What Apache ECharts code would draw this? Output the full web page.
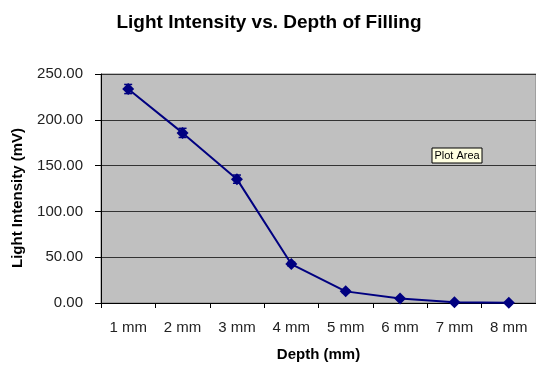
<!DOCTYPE html>
<html>
<head>
<meta charset="utf-8">
<script src="https://cdn.jsdelivr.net/npm/echarts@6/dist/echarts.min.js"></script>
<style>
  html, body { margin: 0; padding: 0; background: #ffffff; }
  #chart { width: 536px; height: 367px; }
</style>
</head>
<body>
<div id="chart"></div>
<script>
const titleText = 'Light Intensity vs. Depth of Filling';
const xAxisName = 'Depth (mm)';
const yAxisName = 'Light Intensity (mV)';
const categories = ['1 mm', '2 mm', '3 mm', '4 mm', '5 mm', '6 mm', '7 mm', '8 mm'];
const intensity = [233.6, 185.7, 135.2, 42.5, 12.7, 5.0, 0.8, 0.2];
const errors = [5.0, 5.0, 4.5, 2.0, 1.5, 1.0, 0.5, 0.3];
const yMin = 0, yMax = 250, yStep = 50;

const FONT = '"Liberation Sans", Arial, sans-serif';
const NAVY = '#000080';

const errData = categories.map((c, i) => [i, intensity[i] - errors[i], intensity[i] + errors[i]]);

const chart = echarts.init(document.getElementById('chart'), null, { renderer: 'canvas' });
chart.setOption({
  animation: false,
  backgroundColor: '#ffffff',
  title: {
    text: titleText,
    left: 264,
    textAlign: 'center',
    top: 8,
    textStyle: { fontFamily: FONT, fontSize: 19, fontWeight: 'bold', color: '#000000' }
  },
  grid: {
    left: 101, top: 74, width: 440, height: 229,
    show: true, backgroundColor: '#c0c0c0', borderColor: '#808080', borderWidth: 1
  },
  xAxis: {
    type: 'category',
    data: categories,
    boundaryGap: true,
    name: xAxisName,
    nameLocation: 'middle',
    nameGap: 44,
    nameTextStyle: { fontFamily: FONT, fontSize: 15, fontWeight: 'bold', color: '#000000' },
    axisLine: { lineStyle: { color: '#000000', width: 1 } },
    axisTick: { show: true, length: 5, alignWithLabel: false, lineStyle: { color: '#000000' } },
    axisLabel: { fontFamily: FONT, fontSize: 15, color: '#222222', margin: 17 },
    splitLine: { show: false }
  },
  yAxis: {
    type: 'value',
    min: yMin, max: yMax, interval: yStep,
    axisLine: { show: true, lineStyle: { color: '#000000', width: 1 } },
    axisTick: { show: true, length: 6, lineStyle: { color: '#000000' } },
    axisLabel: {
      fontFamily: FONT, fontSize: 15, color: '#222222', margin: 18,
      formatter: v => v.toFixed(2)
    },
    splitLine: { show: true, lineStyle: { color: '#333333', width: 1 } }
  },
  graphic: [
    {
      type: 'text',
      x: 18, y: 198,
      rotation: Math.PI / 2,
      style: {
        text: yAxisName,
        font: 'bold 15px ' + FONT,
        fill: '#000000',
        align: 'center',
        verticalAlign: 'middle'
      }
    },
    {
      type: 'group',
      x: 432, y: 148,
      children: [
        { type: 'rect', shape: { x: 0, y: 0, width: 50, height: 15 },
          style: { fill: '#ffffe1', stroke: '#000000', lineWidth: 1 } },
        { type: 'text', x: 25, y: 8,
          style: { text: 'Plot Area', font: '11px ' + FONT, fill: '#000000',
                   align: 'center', verticalAlign: 'middle' } }
      ]
    }
  ],
  series: [
    {
      type: 'line',
      data: intensity,
      symbol: 'diamond',
      symbolSize: 12,
      lineStyle: { color: NAVY, width: 2 },
      itemStyle: { color: NAVY },
      z: 3
    },
    {
      type: 'custom',
      data: errData,
      z: 4,
      renderItem: function (params, api) {
        const x = api.value(0);
        const lo = api.coord([x, api.value(1)]);
        const hi = api.coord([x, api.value(2)]);
        const cap = 4;
        const style = { stroke: NAVY, lineWidth: 1.5 };
        return {
          type: 'group',
          children: [
            { type: 'line', shape: { x1: lo[0], y1: lo[1], x2: hi[0], y2: hi[1] }, style },
            { type: 'line', shape: { x1: lo[0] - cap, y1: lo[1], x2: lo[0] + cap, y2: lo[1] }, style },
            { type: 'line', shape: { x1: hi[0] - cap, y1: hi[1], x2: hi[0] + cap, y2: hi[1] }, style }
          ]
        };
      }
    }
  ]
});
</script>
</body>
</html>
